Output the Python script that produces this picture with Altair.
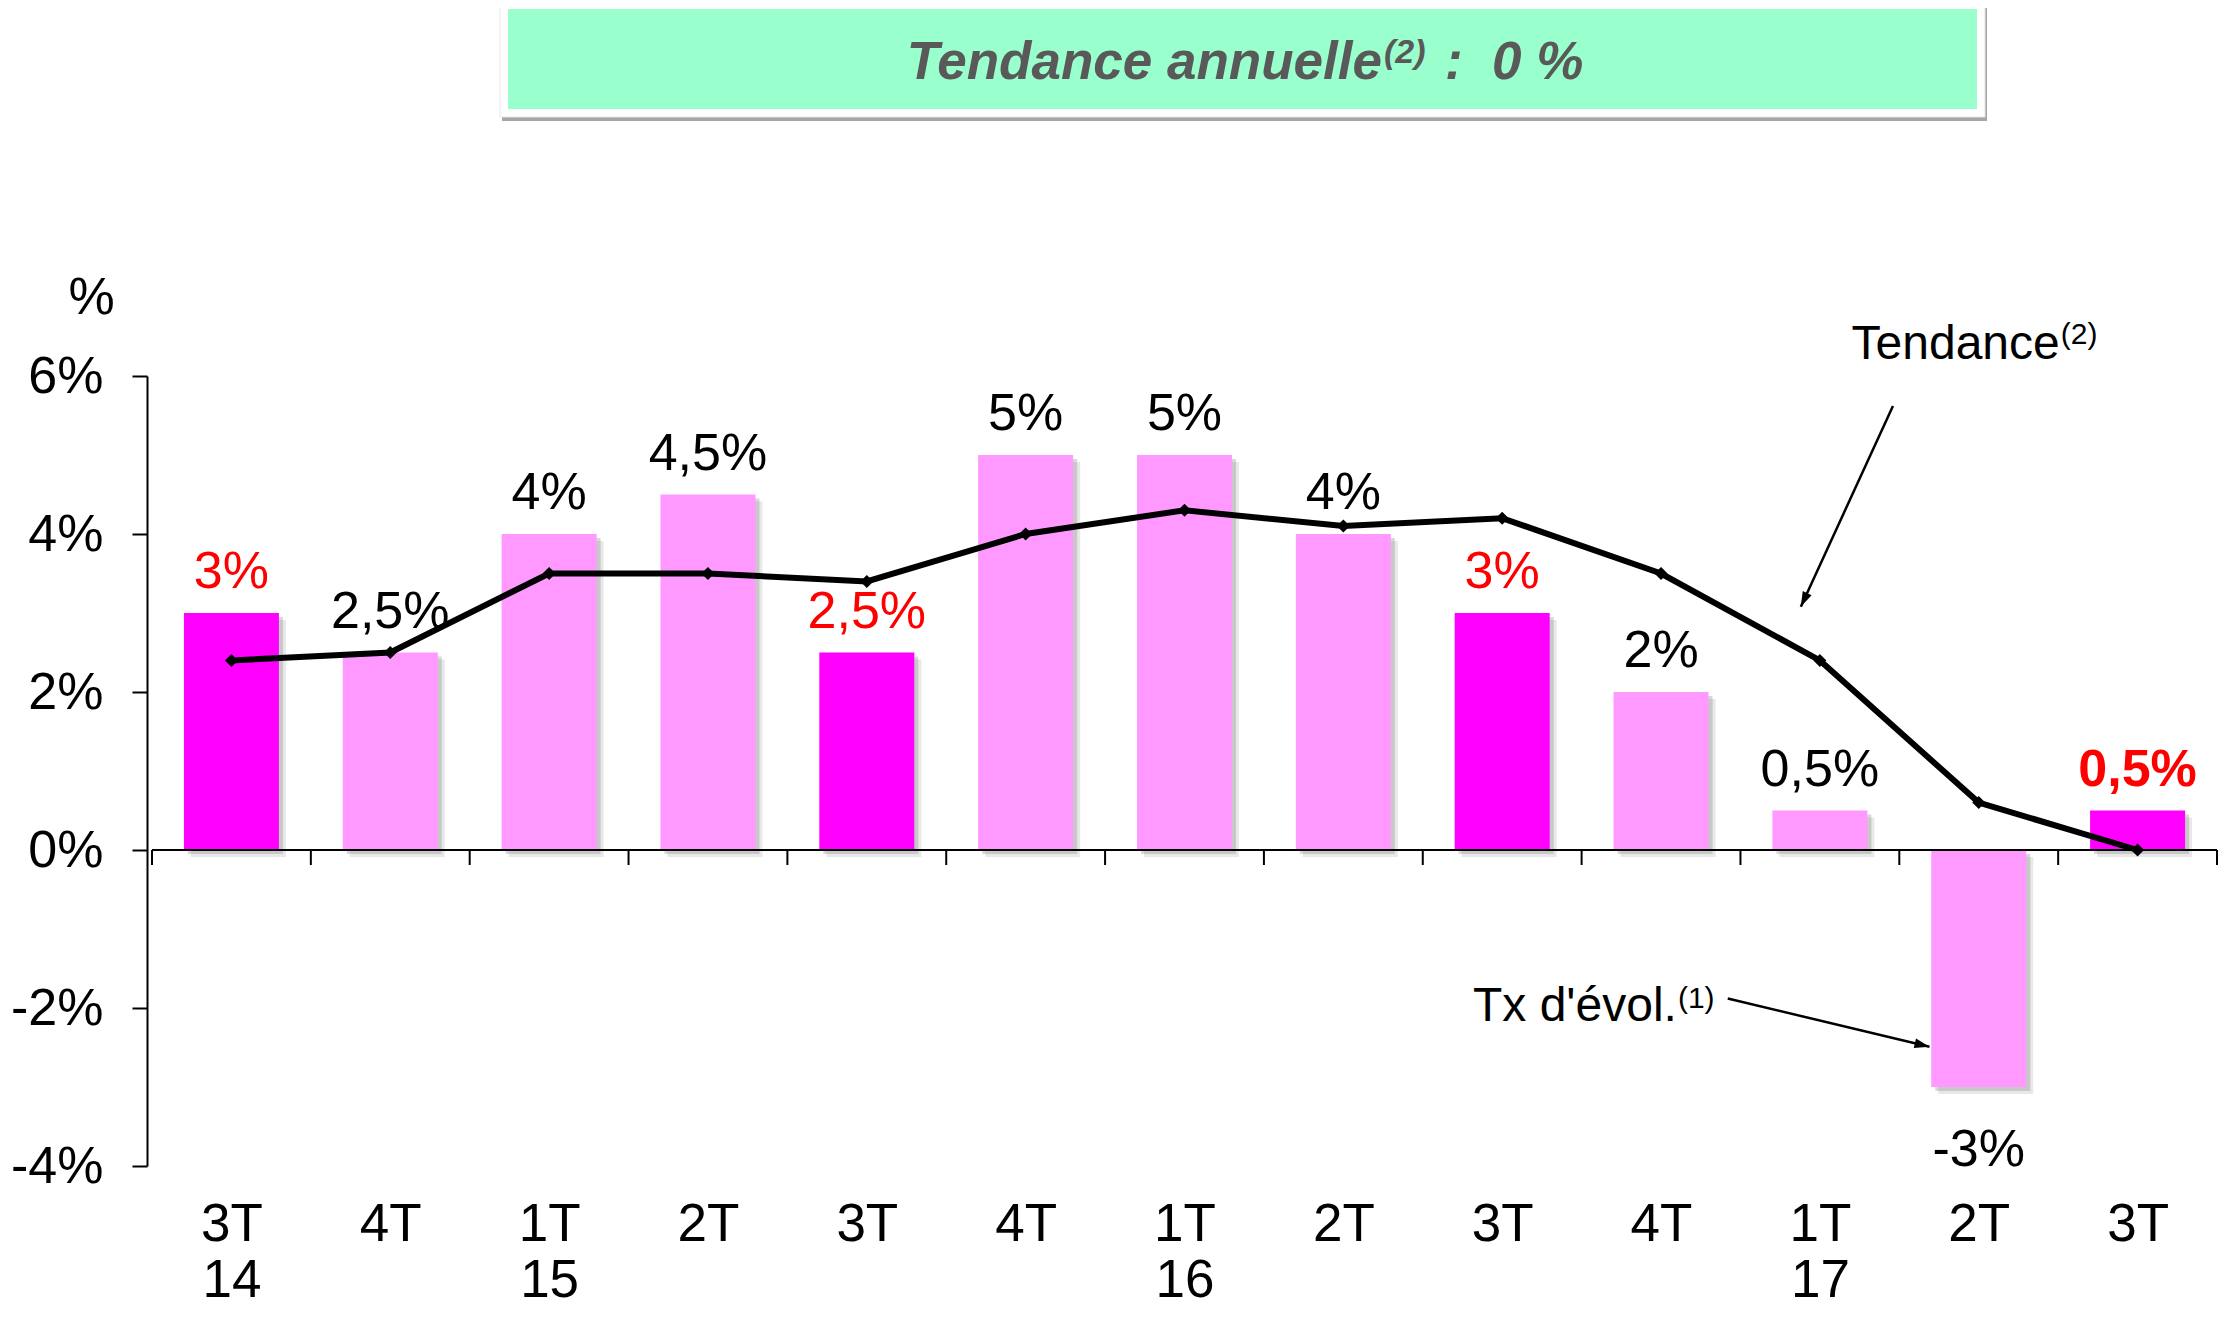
import json
import altair as alt
import pandas as pd

# ---------------- data ----------------
quarters = ["3T", "4T", "1T", "2T", "3T", "4T", "1T", "2T", "3T", "4T", "1T", "2T", "3T"]
years = ["14", "", "15", "", "", "", "16", "", "", "", "17", "", ""]
evolution = [3, 2.5, 4, 4.5, 2.5, 5, 5, 4, 3, 2, 0.5, -3, 0.5]
trend = [2.4, 2.5, 3.5, 3.5, 3.4, 4.0, 4.3, 4.1, 4.2, 3.5, 2.4, 0.6, 0.0]
value_labels = ["3%", "2,5%", "4%", "4,5%", "2,5%", "5%", "5%", "4%", "3%", "2%", "0,5%", "-3%", "0,5%"]
y_ticks = [-4, -2, 0, 2, 4, 6]

FONT = "Liberation Sans"
MAGENTA = "#FF00FF"
PINK = "#FF99FF"
RED = "#FF0000"

n = len(quarters)
df = pd.DataFrame({
    "i": list(range(n)),
    "q": quarters,
    "yr": years,
    "v": evolution,
    "t": trend,
    "lab": value_labels,
})
bounds = pd.DataFrame({"b": [k - 0.5 for k in range(n + 1)]})
tick_lines = [[q, y] if y else [q] for q, y in zip(quarters, years)]
one = alt.Data(values=[{}])

# annotation arrows (data units)
arrows = pd.DataFrame({
    "x": [10.46, 9.42],
    "y": [5.62, -1.88],
    "x2": [9.88, 10.69],
    "y2": [3.08, -2.49],
    "ang": [205, 103],
})

# ---------------- encodings ----------------
x_enc = alt.X(
    "i:Q",
    scale=alt.Scale(domain=[-0.5, n - 0.5], nice=False, zero=False),
    axis=alt.Axis(
        values=list(range(n)),
        labelExpr=f"{json.dumps(tick_lines)}[datum.value]",
        domain=False, ticks=False, tickSize=0, grid=False,
        labelFont=FONT, labelFontSize=53, labelLineHeight=56,
        labelPadding=32, labelFlush=False, labelOverlap=False,
        labelColor="black", labelAngle=0, labelBaseline="top",
        title=None,
    ),
)
y_enc = alt.Y(
    "v:Q",
    scale=alt.Scale(domain=[-4, 6], nice=False, zero=False),
    axis=alt.Axis(
        values=y_ticks,
        labelExpr="datum.value + '%'",
        tickSize=15, tickWidth=2, tickColor="black",
        domainColor="black", domainWidth=2,
        labelPadding=29, labelFont=FONT, labelFontSize=52, labelColor="black",
        grid=False,
        title="%", titleAngle=0, titleX=-56, titleY=-79,
        titleAlign="center", titleBaseline="middle",
        titleFont=FONT, titleFontSize=52, titleFontWeight="normal", titleColor="black",
    ),
)

base = alt.Chart(df)
is3T = "datum.q === '3T'"

shadow1 = base.mark_bar(width=95, color="#7f7f7f", opacity=0.18,
                        xOffset=7, yOffset=7, y2Offset=7).encode(
    x=x_enc, y=y_enc, y2=alt.datum(0))
shadow2 = base.mark_bar(width=95, color="#7f7f7f", opacity=0.3,
                        xOffset=4, yOffset=4, y2Offset=4).encode(
    x=x_enc, y=y_enc, y2=alt.datum(0))

bars = base.mark_bar(width=95).encode(
    x=x_enc, y=y_enc, y2=alt.datum(0),
    color=alt.condition(is3T, alt.value(MAGENTA), alt.value(PINK)),
)

zero_line = alt.Chart(one).mark_rule(color="black", strokeWidth=2).encode(
    x=alt.datum(-0.5), x2=alt.datum(n - 0.5), y=alt.datum(0))

ticks = alt.Chart(bounds).mark_rule(color="black", strokeWidth=2, y2Offset=15).encode(
    x="b:Q", y=alt.datum(0), y2=alt.datum(0))

line = base.mark_line(color="black", strokeWidth=6).encode(x=x_enc, y="t:Q")
pts = base.mark_point(shape="diamond", filled=True, size=170, color="black", opacity=1).encode(
    x=x_enc, y="t:Q")

labels_pos = base.transform_filter(f"datum.v >= 0 && datum.i < {n - 1}").mark_text(
    baseline="alphabetic", dy=-25, font=FONT, fontSize=52).encode(
    x=x_enc, y="v:Q", text="lab:N",
    color=alt.condition(is3T, alt.value(RED), alt.value("black")))
labels_neg = base.transform_filter("datum.v < 0").mark_text(
    baseline="alphabetic", dy=79, font=FONT, fontSize=52, color="black").encode(
    x=x_enc, y="v:Q", text="lab:N")
labels_last = base.transform_filter(f"datum.i == {n - 1}").mark_text(
    baseline="alphabetic", dy=-25, font=FONT, fontSize=52, fontWeight="bold", color=RED).encode(
    x=x_enc, y="v:Q", text="lab:N")

# annotations
ann_tend = alt.Chart(one).mark_text(align="right", baseline="alphabetic", font=FONT,
                                     fontSize=48, color="black", text="Tendance").encode(
    x=alt.datum(11.51), y=alt.datum(6.22))
ann_tend_sup = alt.Chart(one).mark_text(align="left", baseline="alphabetic", font=FONT,
                                         fontSize=30, color="black", text="(2)", dx=1, dy=-15).encode(
    x=alt.datum(11.51), y=alt.datum(6.22))
ann_tx = alt.Chart(one).mark_text(align="right", baseline="alphabetic", font=FONT,
                                   fontSize=48, color="black", text="Tx d'évol.").encode(
    x=alt.datum(9.1), y=alt.datum(-2.16))
ann_tx_sup = alt.Chart(one).mark_text(align="left", baseline="alphabetic", font=FONT,
                                       fontSize=30, color="black", text="(1)", dx=1, dy=-13).encode(
    x=alt.datum(9.1), y=alt.datum(-2.16))
arrow_lines = alt.Chart(arrows).mark_rule(color="black", strokeWidth=2.5).encode(
    x="x:Q", y="y:Q", x2="x2:Q", y2="y2:Q")
arrow_heads = alt.Chart(arrows).mark_point(
    shape="M0,0 L0.65,2 L-0.65,2 Z", filled=True, size=225, color="black", opacity=1).encode(
    x="x2:Q", y="y2:Q", angle=alt.Angle("ang:Q", scale=None))

# title box (pixel positions relative to the plot area, whose left edge is at x=147)
box_shadow = alt.Chart(one).mark_rect(color="#a6a6a6").encode(
    x=alt.value(355), x2=alt.value(1840), y=alt.value(-369), y2=alt.value(-255))
box_white = alt.Chart(one).mark_rect(color="white", stroke="#e6e6e6", strokeWidth=1).encode(
    x=alt.value(353), x2=alt.value(1838), y=alt.value(-371), y2=alt.value(-259))
box_green = alt.Chart(one).mark_rect(color="#99FFCC").encode(
    x=alt.value(361), x2=alt.value(1830), y=alt.value(-367), y2=alt.value(-267))
TITLE_COLOR = "#595959"
title_main = alt.Chart(one).mark_text(align="right", baseline="alphabetic", font=FONT,
                                       fontSize=53, fontStyle="italic", fontWeight="bold",
                                       color=TITLE_COLOR, text="Tendance annuelle").encode(
    x=alt.value(1235), y=alt.value(-297))
title_sup = alt.Chart(one).mark_text(align="left", baseline="alphabetic", font=FONT,
                                      fontSize=34, fontStyle="italic", fontWeight="bold",
                                      color=TITLE_COLOR, text="(2)").encode(
    x=alt.value(1237), y=alt.value(-313))
title_rest = alt.Chart(one).mark_text(align="left", baseline="alphabetic", font=FONT,
                                       fontSize=53, fontStyle="italic", fontWeight="bold",
                                       color=TITLE_COLOR, text=":\u00a0\u00a00\u00a0%").encode(
    x=alt.value(1298), y=alt.value(-297))

chart = alt.layer(
    shadow1, shadow2, bars, zero_line, ticks, line, pts,
    labels_pos, labels_neg, labels_last,
    arrow_lines, arrow_heads, ann_tend, ann_tend_sup, ann_tx, ann_tx_sup,
    box_shadow, box_white, box_green, title_main, title_sup, title_rest,
).properties(
    width=2075, height=790,
    autosize=alt.AutoSizeParams(type="none"),
    padding={"left": 139, "top": 368, "right": 8, "bottom": 145},
    background="white",
).configure_view(stroke=None)

chart.save("out.html", embed_options={"renderer": "svg", "actions": False})
